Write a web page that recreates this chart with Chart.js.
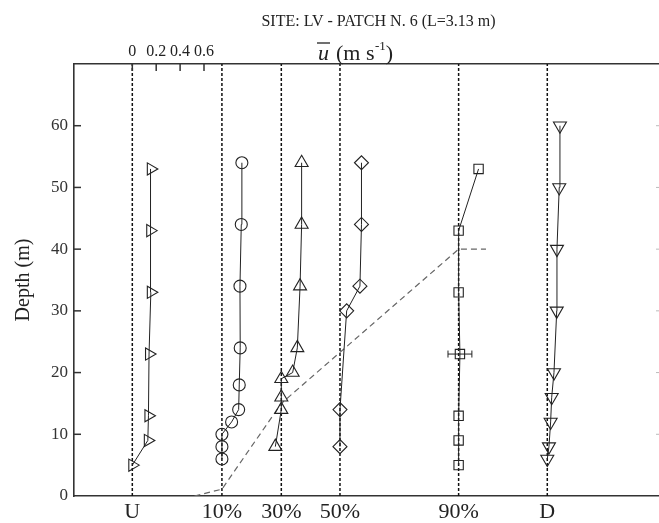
<!DOCTYPE html>
<html><head><meta charset="utf-8">
<script src="https://cdn.jsdelivr.net/npm/chart.js@4.4.1/dist/chart.umd.min.js"></script>
<style>html,body{margin:0;padding:0;background:#fff;}</style>
</head><body>
<canvas id="c" width="659" height="523"></canvas>
<script>
// ---- data ----
const categories = ['U', '10%', '30%', '50%', '90%', 'D'];
const categoryOffsets = [0, 0.75, 1.247, 1.738, 2.731, 3.473];
const topTicks = [0, 0.2, 0.4, 0.6];
const depthTicks = [0, 10, 20, 30, 40, 50, 60];

const depthU = [5, 9, 13, 23, 33, 43, 53];
const speedU = [0.0, 0.13, 0.135, 0.14, 0.155, 0.15, 0.155];
const depth10 = [6, 8, 10, 12, 14, 18, 24, 34, 44, 54];
const speed10 = [0, 0, 0, 0.081, 0.14, 0.145, 0.153, 0.151, 0.162, 0.167];
const depth30 = [8, 14, 16, 19, 20, 24, 34, 44, 54];
const speed30 = [-0.05, 0, 0, 0, 0.095, 0.134, 0.157, 0.17, 0.17];
const depth50 = [8, 14, 30, 34, 44, 54];
const speed50 = [0, 0, 0.056, 0.167, 0.18, 0.18];
const depth90 = [5, 9, 13, 23, 33, 43, 53];
const speed90 = [0, 0, 0, 0.011, 0, 0, 0.167];
const err90Depth = 23;
const err90Speed = 0.011;
const err90Half = 0.1;
const depthD = [6, 8, 12, 16, 20, 30, 40, 50, 60];
const speedD = [0, 0.014, 0.028, 0.037, 0.056, 0.079, 0.081, 0.1, 0.106];
const thermoX = [0.52, 0.75, 1.247, 2.731, 2.96];
const thermoDepth = [0, 1.1, 15, 40, 40];

const titleText = 'SITE: LV - PATCH N. 6 (L=3.13 m)';

// ---- chart ----
const ink = '#222';
const serif = 'Liberation Serif';
const xMin = -0.488, xMax = 4.408;

function profile(speeds, depths, off, style, rot, r) {
  return {
    data: depths.map((d, i) => ({x: off + speeds[i], y: d})),
    showLine: true, borderColor: ink, borderWidth: 1, tension: 0,
    pointStyle: style, pointRotation: rot, pointRadius: r,
    pointBorderColor: ink, pointBackgroundColor: 'rgba(0,0,0,0)', pointBorderWidth: 1.1,
    clip: false
  };
}

const datasets = [
  profile(speedU, depthU, categoryOffsets[0], 'triangle', 90, 7),
  profile(speed10, depth10, categoryOffsets[1], 'circle', 0, 6),
  profile(speed30, depth30, categoryOffsets[2], 'triangle', 0, 7.5),
  profile(speed50, depth50, categoryOffsets[3], 'rectRot', 0, 7),
  profile(speed90, depth90, categoryOffsets[4], 'rect', 0, 6.6),
  profile(speedD, depthD, categoryOffsets[5], 'triangle', 180, 7.5),
  {
    data: [{x: categoryOffsets[4] + err90Speed - err90Half, y: err90Depth},
           {x: categoryOffsets[4] + err90Speed + err90Half, y: err90Depth}],
    showLine: true, borderColor: ink, borderWidth: 1,
    pointStyle: 'line', pointRotation: 90, pointRadius: 3.5, pointBorderColor: ink, pointBorderWidth: 1
  },
  {
    data: thermoX.map((v, i) => ({x: v, y: thermoDepth[i]})),
    showLine: true, borderColor: '#666', borderWidth: 1.2, borderDash: [6, 4], pointRadius: 0
  }
];
categoryOffsets.forEach(off => {
  datasets.push({
    data: [{x: off, y: 0}, {x: off, y: 70}],
    showLine: true, borderColor: '#111', borderWidth: 1.5, borderDash: [3, 2], pointRadius: 0
  });
});

const overlay = {
  id: 'overlay',
  afterDraw(chart) {
    const {ctx, chartArea: a, scales} = chart;
    ctx.save();
    ctx.strokeStyle = '#333';
    ctx.lineWidth = 1.5;
    depthTicks.forEach(d => {
      if (d === 0) return;
      const py = scales.y.getPixelForValue(d);
      ctx.beginPath(); ctx.moveTo(a.left, py); ctx.lineTo(a.left + 7, py); ctx.stroke();
    });
    topTicks.forEach(v => {
      const px = scales.x2.getPixelForValue(v);
      ctx.beginPath(); ctx.moveTo(px, a.top); ctx.lineTo(px, a.top + 7); ctx.stroke();
    });
    ctx.strokeStyle = '#bbb';
    ctx.lineWidth = 1;
    depthTicks.forEach(d => {
      if (d === 0) return;
      const py = scales.y.getPixelForValue(d);
      ctx.beginPath(); ctx.moveTo(a.right - 3, py); ctx.lineTo(a.right, py); ctx.stroke();
    });
    // title
    ctx.fillStyle = '#222';
    ctx.textBaseline = 'alphabetic';
    ctx.textAlign = 'center';
    ctx.font = '16px "' + serif + '"';
    ctx.fillText(titleText, 378.5, 26);
    // top axis label: u-bar (m s^-1)
    ctx.textAlign = 'left';
    ctx.font = 'italic 22px "' + serif + '"';
    const ux = 318, by = 60;
    ctx.fillText('u', ux, by);
    const uw = ctx.measureText('u').width;
    ctx.strokeStyle = '#222'; ctx.lineWidth = 1.3;
    ctx.beginPath(); ctx.moveTo(ux - 1, 43); ctx.lineTo(ux + uw + 1, 43); ctx.stroke();
    ctx.font = '22px "' + serif + '"';
    let cx = 336;
    ctx.fillText('(m s', cx, by);
    cx += ctx.measureText('(m s').width + 0.5;
    ctx.font = '13px "' + serif + '"';
    ctx.fillText('-1', cx, 50);
    cx += ctx.measureText('-1').width;
    ctx.font = '22px "' + serif + '"';
    ctx.fillText(')', cx, by);
    ctx.restore();
  }
};

new Chart(document.getElementById('c'), {
  type: 'scatter',
  data: {datasets},
  options: {
    responsive: false,
    animation: false,
    layout: {padding: 0, autoPadding: false},
    plugins: {legend: {display: false}, tooltip: {enabled: false}, title: {display: false}},
    scales: {
      x: {
        type: 'linear', position: 'bottom', min: xMin, max: xMax,
        afterBuildTicks: s => { s.ticks = categoryOffsets.map(v => ({value: v})); },
        afterFit: s => { s.height = 27; },
        ticks: {autoSkip: false, maxRotation: 0, padding: 3, color: '#222',
                font: {family: serif, size: 22},
                callback: (v, i) => categories[i]},
        grid: {display: false, drawTicks: false},
        border: {display: true, color: '#333', width: 1.6}
      },
      x2: {
        type: 'linear', position: 'top', min: xMin, max: xMax,
        afterBuildTicks: s => { s.ticks = topTicks.map(v => ({value: v})); },
        afterFit: s => { s.height = 64; },
        ticks: {autoSkip: false, maxRotation: 0, padding: 3, color: '#222',
                font: {family: serif, size: 16},
                callback: v => String(v)},
        grid: {display: false, drawTicks: false},
        border: {display: true, color: '#333', width: 1.6}
      },
      y: {
        type: 'linear', position: 'left', min: 0, max: 70,
        afterBuildTicks: s => { s.ticks = depthTicks.map(v => ({value: v})); },
        afterFit: s => { s.width = 74; },
        ticks: {padding: 6, color: '#333', font: {family: serif, size: 17}},
        grid: {display: false, drawTicks: false},
        border: {display: true, color: '#333', width: 1.6},
        title: {display: true, text: 'Depth (m)', color: '#222',
                font: {family: serif, size: 20}, padding: {top: 12, bottom: 0}}
      }
    }
  },
  plugins: [overlay]
});
</script>
</body></html>
